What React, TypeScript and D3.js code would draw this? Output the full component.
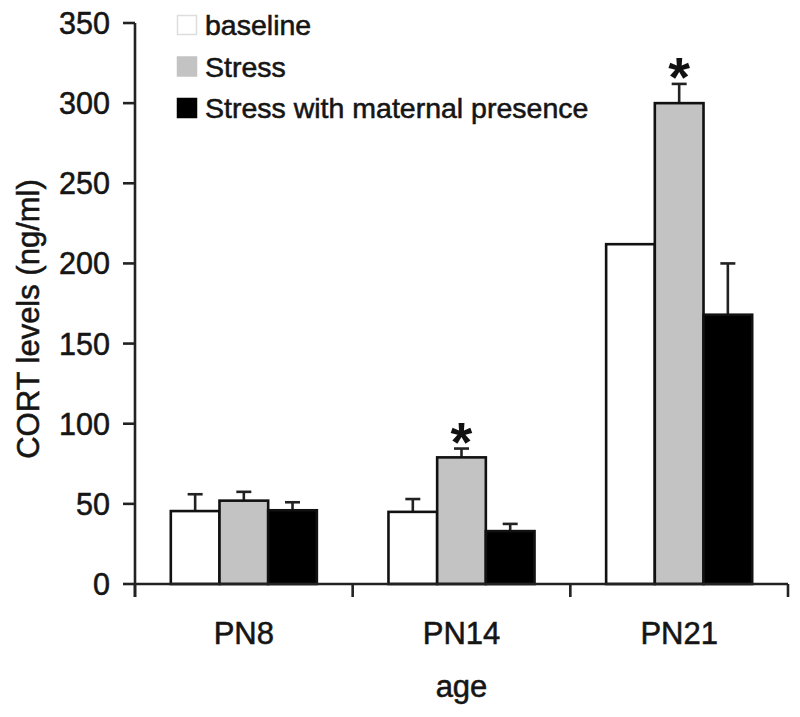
import React from "react";
import * as d3 from "d3";

const categories = ["PN8", "PN14", "PN21"];
const seriesNames = ["baseline", "Stress", "Stress with maternal presence"];
const baselineValues = [45.5, 45, 212];
const stressValues = [52, 79, 300];
const maternalValues = [46, 33, 168];
const baselineErrors = [10.5, 8, 0];
const stressErrors = [5.5, 5.5, 12];
const maternalErrors = [5, 4.5, 32];
const significant = [[false, false, false], [false, true, true], [false, false, false]];
const yTicks = [0, 50, 100, 150, 200, 250, 300, 350];
const fills = ["#ffffff", "#c3c3c3", "#000000"];

const W = 800;
const H = 717;
const FONT = "'Liberation Sans', Arial, Helvetica, sans-serif";
const TEXT = "#151515";

export default function App() {
  const values = [baselineValues, stressValues, maternalValues];
  const errors = [baselineErrors, stressErrors, maternalErrors];

  const left = 135;
  const right = 788;
  const top = 23;
  const bottom = 584;
  const p = 0.329;

  const y = d3.scaleLinear().domain([0, 350]).range([bottom, top]);
  const x0 = d3
    .scaleBand<string>()
    .domain(categories)
    .range([left, right])
    .paddingInner(p)
    .paddingOuter(p / 2);
  const x1 = d3
    .scaleBand<string>()
    .domain(seriesNames)
    .range([0, x0.bandwidth()])
    .padding(0);

  const step = x0.step();
  const boundaries = categories.map((c) => (x0(c) as number) - (step * p) / 2);
  boundaries.push(right);

  const axisColor = "#222";
  const sw = 2.6;
  const textStyle = { fill: TEXT, stroke: TEXT, strokeWidth: 0.55 };

  return (
    <svg
      width={W}
      height={H}
      style={{ position: "absolute", left: 0, top: 0, background: "#fff" }}
      fontFamily={FONT}
    >
      <rect x={0} y={0} width={W} height={H} fill="#fff" />
      {/* bars */}
      {categories.map((c, ci) =>
        seriesNames.map((s, si) => {
          const v = values[si][ci];
          const e = errors[si][ci];
          const bx = (x0(c) as number) + (x1(s) as number);
          const bw = x1.bandwidth();
          const cx = bx + bw / 2;
          return (
            <g key={c + s}>
              {e > 0 && (
                <g stroke={axisColor} strokeWidth={sw}>
                  <line x1={cx} x2={cx} y1={y(v)} y2={y(v + e)} />
                  <line x1={cx - 7.5} x2={cx + 7.5} y1={y(v + e)} y2={y(v + e)} />
                </g>
              )}
              <rect
                x={bx}
                y={y(v)}
                width={bw}
                height={y(0) - y(v)}
                fill={fills[si]}
                stroke="#111"
                strokeWidth={sw}
              />
              {significant[si][ci] && (
                <text
                  x={cx}
                  y={y(v + e) + 12}
                  textAnchor="middle"
                  fontSize={56}
                  fontWeight="bold"
                  fill="#111"
                >
                  *
                </text>
              )}
            </g>
          );
        })
      )}
      {/* y axis */}
      <line x1={left} x2={left} y1={top} y2={597} stroke={axisColor} strokeWidth={sw} />
      {yTicks.map((t) => (
        <g key={t}>
          <line x1={left - 12} x2={left} y1={y(t)} y2={y(t)} stroke={axisColor} strokeWidth={sw} />
          <text x={110} y={y(t) + 11} textAnchor="end" fontSize={30.5} style={textStyle}>
            {t}
          </text>
        </g>
      ))}
      {/* x axis */}
      <line x1={left} x2={right} y1={bottom} y2={bottom} stroke={axisColor} strokeWidth={sw} />
      {boundaries.map((b, i) => (
        <line key={i} x1={b} x2={b} y1={bottom} y2={597} stroke={axisColor} strokeWidth={sw} />
      ))}
      {categories.map((c) => (
        <text
          key={c}
          x={(x0(c) as number) + x0.bandwidth() / 2}
          y={644}
          textAnchor="middle"
          fontSize={31}
          style={textStyle}
        >
          {c}
        </text>
      ))}
      <text x={(left + right) / 2} y={697} textAnchor="middle" fontSize={31} style={textStyle}>
        age
      </text>
      <text
        transform={`translate(${39},${319}) rotate(-90)`}
        textAnchor="middle"
        fontSize={31}
        style={textStyle}
      >
        CORT levels (ng/ml)
      </text>
      {/* legend */}
      {seriesNames.map((s, i) => {
        const cy = 25 + i * 41.5;
        return (
          <g key={s}>
            <rect
              x={177.5}
              y={cy - 9.5}
              width={19}
              height={19}
              fill={fills[i]}
              stroke={i === 0 ? "#ddd" : fills[i]}
              strokeWidth={1.5}
            />
            <text x={205} y={cy + 10} fontSize={28.5} style={textStyle}>
              {s}
            </text>
          </g>
        );
      })}
    </svg>
  );
}
